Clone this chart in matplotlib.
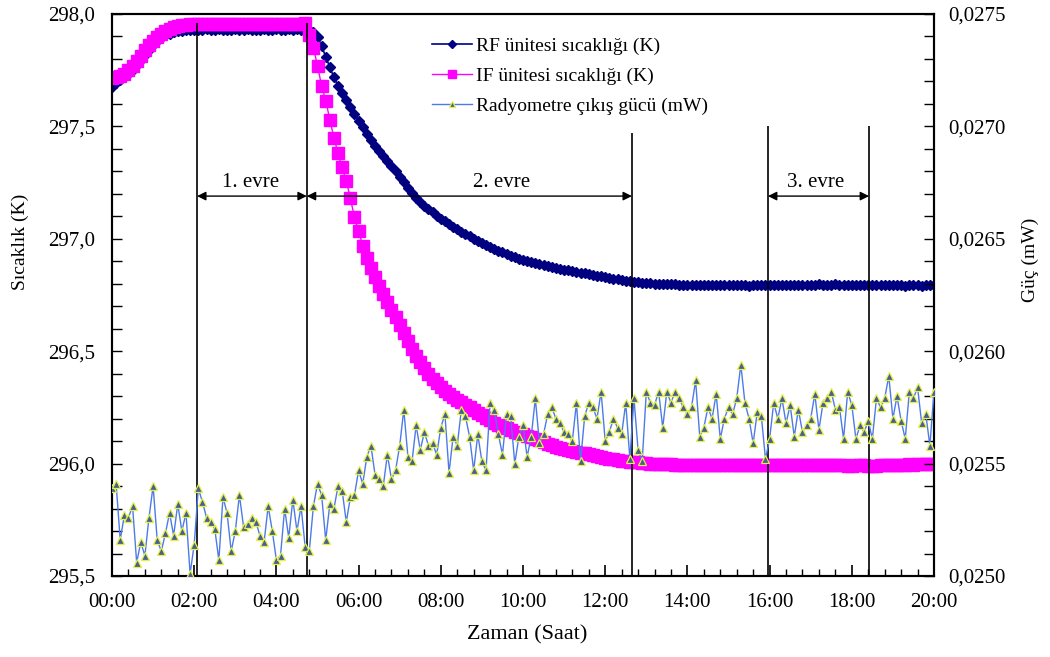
import numpy as np
import matplotlib
matplotlib.use('Agg')
import matplotlib.pyplot as plt
from matplotlib.ticker import MultipleLocator, FuncFormatter

plt.rcParams['font.family'] = ['Liberation Serif', 'DejaVu Serif']

# ---------------- data ----------------
step_hours = 0.1   # sampling interval of the logged data

rf_temp = [
    297.675, 297.695, 297.708, 297.720, 297.735, 297.752, 297.773, 297.795, 297.818, 297.840,
    297.860, 297.878, 297.893, 297.905, 297.913, 297.919, 297.923, 297.926, 297.928, 297.929,
    297.930, 297.931, 297.930, 297.932, 297.931, 297.930, 297.932, 297.931, 297.930, 297.931,
    297.932, 297.930, 297.931, 297.932, 297.931, 297.930, 297.931, 297.932, 297.931, 297.930,
    297.932, 297.931, 297.930, 297.932, 297.931, 297.932, 297.931, 297.932,
    297.930, 297.922,
    297.897, 297.857, 297.810, 297.763, 297.718, 297.680, 297.648, 297.618, 297.588, 297.557,
    297.526, 297.497, 297.468, 297.441, 297.415, 297.390, 297.368, 297.347, 297.324, 297.300,
    297.276, 297.251, 297.226, 297.202, 297.182, 297.163, 297.147, 297.132, 297.117, 297.103,
    297.090, 297.077, 297.065, 297.054, 297.043, 297.032, 297.021, 297.011, 297.001, 296.991,
    296.981, 296.972, 296.963, 296.955, 296.947, 296.940, 296.932, 296.925, 296.918, 296.912,
    296.907, 296.902, 296.897, 296.893, 296.889, 296.884, 296.880, 296.876, 296.872, 296.867,
    296.863, 296.860, 296.856, 296.853, 296.849, 296.846, 296.843, 296.839, 296.836, 296.833,
    296.829, 296.826, 296.823, 296.820, 296.817, 296.814, 296.811, 296.809, 296.807, 296.805,
    296.803, 296.802, 296.801, 296.800, 296.799, 296.798, 296.797, 296.797, 296.796, 296.796,
    296.795, 296.795, 296.794, 296.795, 296.796, 296.795, 296.794, 296.794, 296.795, 296.794,
    296.793, 296.794, 296.795, 296.794, 296.793, 296.792, 296.793, 296.794, 296.795, 296.794,
    296.793, 296.794, 296.795, 296.796, 296.795, 296.794, 296.795, 296.796, 296.795, 296.794,
    296.795, 296.796, 296.797, 296.796, 296.795, 296.796, 296.797, 296.796, 296.795, 296.796,
    296.795, 296.794, 296.795, 296.796, 296.795, 296.794, 296.793, 296.794, 296.795, 296.794,
    296.793, 296.794, 296.793, 296.792, 296.793, 296.794, 296.793, 296.792, 296.793, 296.794,
    296.793,
]

if_temp = [
    297.715, 297.718, 297.725, 297.735, 297.750, 297.770, 297.792, 297.815, 297.838, 297.860,
    297.880, 297.898, 297.913, 297.925, 297.935, 297.942, 297.947, 297.950, 297.952, 297.954,
    297.955, 297.956, 297.955, 297.954, 297.956, 297.957, 297.955, 297.956, 297.955, 297.954,
    297.955, 297.956, 297.957, 297.956, 297.955, 297.955, 297.954, 297.956, 297.955, 297.956,
    297.957, 297.956, 297.955, 297.956, 297.955, 297.956, 297.957, 297.958,
    297.905, 297.850,
    297.770, 297.680, 297.615, 297.530, 297.450, 297.380, 297.318, 297.258, 297.180, 297.095,
    297.035, 296.970, 296.915, 296.870, 296.830, 296.790, 296.755, 296.720, 296.685, 296.650,
    296.615, 296.580, 296.545, 296.510, 296.480, 296.450, 296.425, 296.400, 296.378, 296.358,
    296.340, 296.325, 296.310, 296.297, 296.285, 296.273, 296.262, 296.250, 296.238, 296.226,
    296.214, 296.203, 296.192, 296.182, 296.173, 296.165, 296.157, 296.149, 296.142, 296.136,
    296.130, 296.124, 296.118, 296.111, 296.104, 296.097, 296.089, 296.082, 296.075, 296.069,
    296.064, 296.060, 296.056, 296.052, 296.048, 296.045, 296.041, 296.037, 296.033, 296.030,
    296.026, 296.022, 296.019, 296.016, 296.013, 296.011, 296.009, 296.007, 296.005, 296.003,
    296.002, 296.000, 295.999, 295.998, 295.997, 295.996, 295.996, 295.995, 295.995, 295.994,
    295.994, 295.994, 295.993, 295.994, 295.995, 295.994, 295.993, 295.993, 295.994, 295.995,
    295.994, 295.993, 295.992, 295.993, 295.994, 295.994, 295.993, 295.992, 295.993, 295.994,
    295.995, 295.994, 295.993, 295.993, 295.994, 295.995, 295.994, 295.993, 295.992, 295.993,
    295.994, 295.993, 295.992, 295.992, 295.993, 295.994, 295.994, 295.993, 295.992, 295.991,
    295.991, 295.992, 295.993, 295.992, 295.991, 295.990, 295.991, 295.992, 295.993, 295.993,
    295.994, 295.995, 295.994, 295.995, 295.996, 295.995, 295.996, 295.997, 295.998, 295.998,
    295.999,
]

power_mw = [
    0.02539, 0.02541, 0.02516, 0.02527, 0.02526, 0.02531, 0.02506, 0.02515, 0.02509, 0.02526,
    0.02540, 0.02516, 0.02511, 0.02519, 0.02528, 0.02518, 0.02532, 0.02520, 0.02528, 0.02501,
    0.02514,
    0.02539, 0.02533, 0.02526, 0.02524, 0.02521, 0.02507, 0.02535, 0.02528, 0.02511, 0.02520,
    0.02536, 0.02522, 0.02523, 0.02526, 0.02524, 0.02518, 0.02515, 0.02531, 0.02520, 0.02507,
    0.02509, 0.02530, 0.02517, 0.02534, 0.02520, 0.02531, 0.02513,
    0.02511, 0.02531, 0.02541, 0.02536, 0.02516, 0.02532, 0.02530, 0.02540, 0.02538, 0.02524,
    0.02535, 0.02536, 0.02547, 0.02541, 0.02553, 0.02558, 0.02545, 0.02543, 0.02540, 0.02554,
    0.02543, 0.02547, 0.02558, 0.02574, 0.02553, 0.02551, 0.02567, 0.02556, 0.02564, 0.02558,
    0.02559, 0.02554, 0.02566, 0.02572, 0.02546, 0.02562, 0.02558, 0.02574, 0.02571, 0.02562,
    0.02547, 0.02563, 0.02551, 0.02547, 0.02577, 0.02574, 0.02563, 0.02554, 0.02572, 0.02571,
    0.02550, 0.02562,
    0.02567, 0.02553, 0.02562, 0.02579, 0.02559, 0.02563, 0.02572, 0.02575, 0.02570, 0.02568,
    0.02564, 0.02563, 0.02560, 0.02577, 0.02551, 0.02571, 0.02577, 0.02575, 0.02570, 0.02582,
    0.02560, 0.02564, 0.02570, 0.02566, 0.02563, 0.02577, 0.02552, 0.02579, 0.02556, 0.02551,
    0.02582, 0.02577, 0.02576, 0.02582, 0.02566, 0.02582, 0.02577, 0.02582, 0.02579, 0.02575,
    0.02572, 0.02575, 0.02587, 0.02562, 0.02566, 0.02575, 0.02570, 0.02581, 0.02561, 0.02570,
    0.02575, 0.02572, 0.02579, 0.02594, 0.02577, 0.02570, 0.02559, 0.02573, 0.02571, 0.02552,
    0.02561, 0.02577, 0.02570, 0.02579, 0.02568, 0.02576, 0.02562, 0.02574, 0.02564,
    0.02567, 0.02570, 0.02581, 0.02565, 0.02577, 0.02579, 0.02582, 0.02574, 0.02575,
    0.02561, 0.02582, 0.02576, 0.02561, 0.02567, 0.02564, 0.02569, 0.02561, 0.02579,
    0.02575, 0.02579, 0.02589, 0.02570, 0.02580, 0.02569, 0.02561, 0.02582,
    0.02579, 0.02584, 0.02568, 0.02572, 0.02558, 0.02582,
]

t_rf = np.arange(len(rf_temp)) * step_hours
t_if = np.arange(len(if_temp)) * step_hours
t_pw = np.arange(len(power_mw)) * step_hours

hour_ticks = [0, 2, 4, 6, 8, 10, 12, 14, 16, 18, 20]

# phase boundary lines (hours) and their top ends (K)
phase_line_x = [2.07, 4.74, 12.65, 15.96, 18.42]
phase_line_top = [297.96, 297.96, 297.47, 297.50, 297.50]
phase_labels = ['1. evre', '2. evre', '3. evre']
phase_spans = [(2.07, 4.74), (4.74, 12.65), (15.96, 18.42)]
phase_label_x = [3.36, 9.49, 17.13]
arrow_y = 297.19
label_y = 297.25

legend_labels = ['RF ünitesi sıcaklığı (K)', 'IF ünitesi sıcaklığı (K)',
                 'Radyometre çıkış gücü (mW)']

# ---------------- figure ----------------
W, H = 1050, 657
fig = plt.figure(figsize=(W / 100, H / 100), dpi=100)
fig.patch.set_facecolor('white')
L, R, T, B = 112, 934, 14, 576
ax = fig.add_axes([L / W, 1 - B / H, (R - L) / W, (B - T) / H])
ax2 = ax.twinx()

l_rf, = ax.plot(t_rf, rf_temp, color='#000080', marker='D', ms=5.0, lw=1.2,
                label=legend_labels[0], zorder=3)
l_if, = ax.plot(t_if, if_temp, color='#FF00FF', marker='s', ms=8.0, lw=1.0,
                mec='#FF00FF', label=legend_labels[1], zorder=4)
l_pw, = ax2.plot(t_pw, power_mw, color='#4D7BE6', lw=1.0, marker='^', ms=5.5,
                 mfc='#46618F', mec='#E6EE48', mew=0.9, label=legend_labels[2],
                 zorder=5)

ax.vlines(phase_line_x, 295.5, phase_line_top, colors='black', lw=1.2, zorder=6)
for (x0, x1) in phase_spans:
    ax.annotate('', xy=(x1, arrow_y), xytext=(x0, arrow_y),
                arrowprops=dict(arrowstyle='<|-|>', color='black', lw=1.0,
                                mutation_scale=13, shrinkA=0, shrinkB=0),
                zorder=6)
for lab, xc in zip(phase_labels, phase_label_x):
    ax.text(xc, label_y, lab, ha='center', va='center', fontsize=15, zorder=7)

ax.set_xlim(0, 20)
ax.set_ylim(295.5, 298.0)
ax2.set_ylim(0.0250, 0.0275)

ax.set_xticks(hour_ticks)
ax.xaxis.set_minor_locator(MultipleLocator(0.4))
ax.xaxis.set_major_formatter(FuncFormatter(lambda v, p: f"{int(round(v)):02d}:00"))
ax.yaxis.set_major_locator(MultipleLocator(0.5))
ax.yaxis.set_minor_locator(MultipleLocator(0.1))
ax.yaxis.set_major_formatter(FuncFormatter(lambda v, p: f"{v:.1f}".replace('.', ',')))
ax2.yaxis.set_major_locator(MultipleLocator(0.0005))
ax2.yaxis.set_minor_locator(MultipleLocator(0.0001))
ax2.yaxis.set_major_formatter(FuncFormatter(lambda v, p: f"{v:.4f}".replace('.', ',')))

ax.tick_params(axis='x', which='major', direction='in', length=8, width=1.2,
               labelsize=15, pad=12, top=False)
ax.tick_params(axis='x', which='minor', direction='in', length=5, width=1.0, top=False)
ax.tick_params(axis='y', which='both', direction='in', length=7, width=1.0,
               labelsize=15, pad=12)
ax2.tick_params(axis='y', which='both', direction='in', length=7, width=1.0,
                labelsize=15, pad=10)

for a in (ax, ax2):
    for s in a.spines.values():
        s.set_linewidth(1.5)
        s.set_color('black')

fig.text(527 / W, 1 - 635 / H, 'Zaman (Saat)', ha='center', va='center', fontsize=16)
fig.text(20 / W, 1 - 242 / H, 'Sıcaklık (K)', ha='center', va='center',
         rotation=90, fontsize=14)
fig.text(1030 / W, 1 - 260 / H, 'Güç (mW)', ha='center', va='center',
         rotation=90, fontsize=14)

leg = ax2.legend([l_rf, l_if, l_pw], legend_labels, loc='upper left',
                 bbox_to_anchor=(418 / W, 1 - 24 / H), bbox_transform=fig.transFigure,
                 frameon=False, fontsize=14, handlelength=2.1, handletextpad=0.2,
                 labelspacing=0.62, borderpad=0.2, markerscale=0.8)
leg.set_zorder(10)

fig.savefig('out.png', dpi=100, facecolor='white')
